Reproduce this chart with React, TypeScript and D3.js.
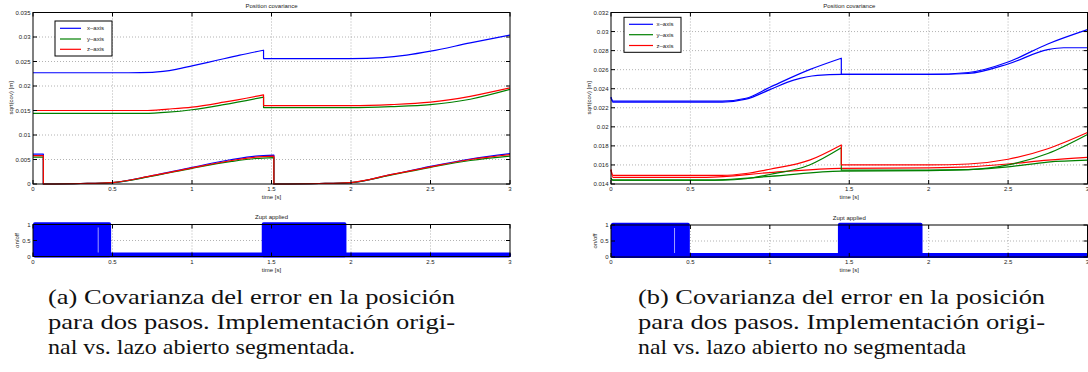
import React from 'react';
import * as d3 from 'd3';

const W = 1088;
const H = 372;

// ---- shared axis ticks ----
const timeTicks = [0, 0.5, 1, 1.5, 2, 2.5, 3];
const timeTickLabels = ['0', '0.5', '1', '1.5', '2', '2.5', '3'];

const covTicksA = [0, 0.005, 0.01, 0.015, 0.02, 0.025, 0.03, 0.035];
const covTickLabelsA = ['0', '0.005', '0.01', '0.015', '0.02', '0.025', '0.03', '0.035'];
const covTicksB = [0.014, 0.016, 0.018, 0.02, 0.022, 0.024, 0.026, 0.028, 0.03, 0.032];
const covTickLabelsB = ['0.014', '0.016', '0.018', '0.02', '0.022', '0.024', '0.026', '0.028', '0.03', '0.032'];

const zuptTicks = [0, 0.5, 1];
const zuptTickLabels = ['0', '0.5', '1'];

const legendLabels = ['x\u2013axis', 'y\u2013axis', 'z\u2013axis'];
const axisColors = ['#0000ff', '#008000', '#ff0000'];

// ---- panel (a): original implementation ----
const aOrigX1T = [0, 0.6, 0.75, 0.9, 1.0, 1.15, 1.3, 1.45];
const aOrigX1V = [0.0227, 0.0227, 0.0228, 0.0234, 0.0241, 0.0252, 0.0263, 0.0273];
const aOrigX2T = [1.45, 2.0, 2.2, 2.35, 2.5, 2.75, 3.0];
const aOrigX2V = [0.0256, 0.0256, 0.0258, 0.0263, 0.0271, 0.0288, 0.0304];
const aOrigYZ1T = [0, 0.7, 0.85, 1.0, 1.2, 1.45];
const aOrigY1V = [0.0144, 0.0144, 0.01465, 0.01515, 0.0162, 0.01775];
const aOrigZ1V = [0.015, 0.015, 0.0153, 0.0157, 0.0167, 0.0182];
const aOrigYZ2T = [1.45, 2.0, 2.25, 2.5, 2.75, 3.0];
const aOrigY2V = [0.0156, 0.0156, 0.0158, 0.0162, 0.0173, 0.0193];
const aOrigZ2V = [0.016, 0.016, 0.0162, 0.0167, 0.0179, 0.0196];

// ---- panel (a): segmented open loop ----
const aSeg1T = [0, 0.065];
const aSeg2T = [0.065, 0.3, 0.5, 0.75, 1.0, 1.25, 1.4, 1.515];
const aSeg3T = [1.515, 1.8, 2.0, 2.25, 2.5, 2.75, 3.0];
const aSegX1V = [0.0061, 0.0061];
const aSegX2V = [0, 0.0001, 0.0003, 0.0017, 0.0034, 0.005, 0.0057, 0.0059];
const aSegX3V = [0, 0.0001, 0.0003, 0.0019, 0.0036, 0.0051, 0.0062];
const aSegY1V = [0.0055, 0.0055];
const aSegY2V = [0, 0.0001, 0.0003, 0.0016, 0.0032, 0.0046, 0.0052, 0.0054];
const aSegY3V = [0, 0.0001, 0.0003, 0.0018, 0.0034, 0.0048, 0.0057];
const aSegZ1V = [0.0058, 0.0058];
const aSegZ2V = [0, 0.0001, 0.0003, 0.0017, 0.0033, 0.0048, 0.0055, 0.0057];
const aSegZ3V = [0, 0.0001, 0.0003, 0.0019, 0.0035, 0.005, 0.006];

// ---- panel (b): original implementation ----
const bOrig1T = [0, 0.012, 0.7, 0.85, 1.0, 1.25, 1.45];
const bOrigX1V = [0.0231, 0.0227, 0.0227, 0.023, 0.02415, 0.026, 0.0272];
const bOrigY1V = [0.0146, 0.0144, 0.0144, 0.01455, 0.015, 0.016, 0.0178];
const bOrigZ1V = [0.0155, 0.0149, 0.0149, 0.0151, 0.01555, 0.0165, 0.0181];
const bOrig2T = [1.45, 2.0, 2.25, 2.5, 2.75, 3.0];
const bOrigX2V = [0.0255, 0.0255, 0.0257, 0.0268, 0.0287, 0.0302];
const bOrigY2V = [0.01545, 0.01545, 0.0155, 0.016, 0.0172, 0.0192];
const bOrigZ2V = [0.016, 0.016, 0.0161, 0.0166, 0.0177, 0.0194];

// ---- panel (b): non-segmented open loop ----
const bOpenXT = [0, 0.012, 0.7, 0.85, 1.0, 1.15, 1.3, 1.45, 2.0, 2.25, 2.5, 2.75, 2.85, 3.0];
const bOpenXV = [0.0231, 0.0226, 0.0226, 0.0229, 0.0239, 0.0249, 0.0254, 0.0255, 0.0255, 0.0256, 0.0266, 0.0281, 0.0283, 0.0283];
const bOpenYZT = [0, 0.012, 0.6, 1.0, 1.45, 2.0, 2.25, 2.5, 2.75, 3.0];
const bOpenYV = [0.0146, 0.0144, 0.0144, 0.0148, 0.01535, 0.0154, 0.0155, 0.0158, 0.0163, 0.0165];
const bOpenZV = [0.0155, 0.0147, 0.0147, 0.0152, 0.01565, 0.0157, 0.0158, 0.0161, 0.0165, 0.0168];

// ---- zero-velocity update flags (intervals where Zupt is on) ----
const zuptOnStartA = [0, 1.45];
const zuptOnEndA = [0.48, 1.96];
const zuptGapA = [0.41];
const zuptOnStartB = [0, 1.44];
const zuptOnEndB = [0.485, 1.95];
const zuptGapB = [0.4];

const captionA = [
  '(a) Covarianza del error en la posición',
  'para dos pasos. Implementación origi-',
  'nal vs. lazo abierto segmentada.',
];
const captionB = [
  '(b) Covarianza del error en la posición',
  'para dos pasos. Implementación origi-',
  'nal vs. lazo abierto no segmentada',
];

type Seg = { t: number[]; v: number[] };
type Series = { color: number; segs: Seg[] };

const seriesA: Series[] = [
  { color: 0, segs: [{ t: aOrigX1T, v: aOrigX1V }, { t: aOrigX2T, v: aOrigX2V }] },
  { color: 1, segs: [{ t: aOrigYZ1T, v: aOrigY1V }, { t: aOrigYZ2T, v: aOrigY2V }] },
  { color: 2, segs: [{ t: aOrigYZ1T, v: aOrigZ1V }, { t: aOrigYZ2T, v: aOrigZ2V }] },
  { color: 0, segs: [{ t: aSeg1T, v: aSegX1V }, { t: aSeg2T, v: aSegX2V }, { t: aSeg3T, v: aSegX3V }] },
  { color: 1, segs: [{ t: aSeg1T, v: aSegY1V }, { t: aSeg2T, v: aSegY2V }, { t: aSeg3T, v: aSegY3V }] },
  { color: 2, segs: [{ t: aSeg1T, v: aSegZ1V }, { t: aSeg2T, v: aSegZ2V }, { t: aSeg3T, v: aSegZ3V }] },
];

const seriesB: Series[] = [
  { color: 0, segs: [{ t: bOpenXT, v: bOpenXV }] },
  { color: 1, segs: [{ t: bOpenYZT, v: bOpenYV }] },
  { color: 2, segs: [{ t: bOpenYZT, v: bOpenZV }] },
  { color: 0, segs: [{ t: bOrig1T, v: bOrigX1V }, { t: bOrig2T, v: bOrigX2V }] },
  { color: 1, segs: [{ t: bOrig1T, v: bOrigY1V }, { t: bOrig2T, v: bOrigY2V }] },
  { color: 2, segs: [{ t: bOrig1T, v: bOrigZ1V }, { t: bOrig2T, v: bOrigZ2V }] },
];

const FONT = "'Liberation Sans', Arial, Helvetica, sans-serif";
const SERIF = "'Liberation Serif', 'Times New Roman', serif";
const FS = 6;
const TXT = '#222';
const GRID = '#a0a0a0';
const TICK = 4;

type Box = { x0: number; x1: number; y0: number; y1: number };

function seriesPath(
  x: d3.ScaleLinear<number, number>,
  y: d3.ScaleLinear<number, number>,
  segs: Seg[]
): string {
  const line = d3
    .line<[number, number]>()
    .x((d) => x(d[0]))
    .y((d) => y(d[1]))
    .curve(d3.curveMonotoneX);
  return segs
    .map((s, i) => {
      const d = line(s.t.map((t, j) => [t, s.v[j]] as [number, number])) || '';
      return i === 0 ? d : 'L' + d.slice(1);
    })
    .join('');
}

function Frame({
  box,
  x,
  y,
  yTicks,
  yLabels,
}: {
  box: Box;
  x: d3.ScaleLinear<number, number>;
  y: d3.ScaleLinear<number, number>;
  yTicks: number[];
  yLabels: string[];
}) {
  return (
    <g>
      <rect x={box.x0} y={box.y0} width={box.x1 - box.x0} height={box.y1 - box.y0} fill="none" stroke="#000" strokeWidth={1} />
      {timeTicks.map((t, i) => (
        <g key={'xt' + i}>
          <line x1={x(t)} x2={x(t)} y1={box.y1} y2={box.y1 - TICK} stroke="#000" strokeWidth={1} />
          <line x1={x(t)} x2={x(t)} y1={box.y0} y2={box.y0 + TICK} stroke="#000" strokeWidth={1} />
          <text x={x(t)} y={box.y1 + 7} fontSize={FS} fontFamily={FONT} fill={TXT} textAnchor="middle">
            {timeTickLabels[i]}
          </text>
        </g>
      ))}
      {yTicks.map((v, i) => (
        <g key={'yt' + i}>
          <line x1={box.x0} x2={box.x0 + TICK} y1={y(v)} y2={y(v)} stroke="#000" strokeWidth={1} />
          <line x1={box.x1} x2={box.x1 - TICK} y1={y(v)} y2={y(v)} stroke="#000" strokeWidth={1} />
          <text x={box.x0 - 2.5} y={y(v) + 2} fontSize={FS} fontFamily={FONT} fill={TXT} textAnchor="end">
            {yLabels[i]}
          </text>
        </g>
      ))}
    </g>
  );
}

function Grid({
  box,
  x,
  y,
  yGrid,
}: {
  box: Box;
  x: d3.ScaleLinear<number, number>;
  y: d3.ScaleLinear<number, number>;
  yGrid: number[];
}) {
  return (
    <g stroke={GRID} strokeWidth={0.8} strokeDasharray="1,2">
      {timeTicks
        .filter((t) => t > 0 && t < 3)
        .map((t, i) => (
          <line key={'gx' + i} x1={x(t)} x2={x(t)} y1={box.y0} y2={box.y1} />
        ))}
      {yGrid.map((v, i) => (
        <line key={'gy' + i} x1={box.x0} x2={box.x1} y1={y(v)} y2={y(v)} />
      ))}
    </g>
  );
}

function CovPanel({
  box,
  domain,
  ticks,
  labels,
  series,
  legend,
}: {
  box: Box;
  domain: [number, number];
  ticks: number[];
  labels: string[];
  series: Series[];
  legend: { x: number; y: number; rows: number[]; lineX0: number; lineX1: number; textX: number; w: number; h: number };
}) {
  const x = d3.scaleLinear().domain([0, 3]).range([box.x0, box.x1]);
  const y = d3.scaleLinear().domain(domain).range([box.y1, box.y0]);
  const cx = (box.x0 + box.x1) / 2;
  const cy = (box.y0 + box.y1) / 2;
  return (
    <g>
      <Grid box={box} x={x} y={y} yGrid={ticks.filter((v) => v > domain[0] && v < domain[1])} />
      {series.map((s, i) => (
        <path
          key={i}
          d={seriesPath(x, y, s.segs)}
          fill="none"
          stroke={axisColors[s.color]}
          strokeWidth={1.2}
          strokeLinejoin="round"
        />
      ))}
      <Frame box={box} x={x} y={y} yTicks={ticks} yLabels={labels} />
      <text x={cx} y={box.y0 - 4.5} fontSize={FS} fontFamily={FONT} fill={TXT} textAnchor="middle">
        Position covariance
      </text>
      <text x={cx} y={box.y1 + 15} fontSize={FS} fontFamily={FONT} fill={TXT} textAnchor="middle">
        time [s]
      </text>
      <text
        transform={`translate(${box.x0 - 20},${cy - 0.5}) rotate(-90)`}
        fontSize={FS}
        fontFamily={FONT}
        fill={TXT}
        textAnchor="middle"
      >
        sqrt(cov) [m]
      </text>
      <g>
        <rect x={legend.x} y={legend.y} width={legend.w} height={legend.h} fill="#fff" stroke="#000" strokeWidth={1} />
        {legendLabels.map((lab, i) => (
          <g key={lab}>
            <line
              x1={legend.lineX0}
              x2={legend.lineX1}
              y1={legend.rows[i]}
              y2={legend.rows[i]}
              stroke={axisColors[i]}
              strokeWidth={1.2}
            />
            <text x={legend.textX} y={legend.rows[i] + 2} fontSize={FS} fontFamily={FONT} fill={TXT}>
              {lab}
            </text>
          </g>
        ))}
      </g>
    </g>
  );
}

function ZuptPanel({
  box,
  starts,
  ends,
  gaps,
}: {
  box: Box;
  starts: number[];
  ends: number[];
  gaps: number[];
}) {
  const x = d3.scaleLinear().domain([0, 3]).range([box.x0, box.x1]);
  const y = d3.scaleLinear().domain([0, 1]).range([box.y1, box.y0]);
  const cx = (box.x0 + box.x1) / 2;
  const cy = (box.y0 + box.y1) / 2;
  return (
    <g>
      <Grid box={box} x={x} y={y} yGrid={[0.5]} />
      <rect x={x(0)} y={y(0) - 4} width={x(3) - x(0) + 1} height={5} rx={2} fill="#0000ff" />
      {starts.map((s, i) => (
        <rect
          key={'z' + i}
          x={x(s) - (s === 0 ? 0 : 1.8)}
          y={y(1) - 2.2}
          width={x(ends[i]) - x(s) + (s === 0 ? 1.8 : 3.6)}
          height={y(0) - y(1) + 3}
          rx={1.8}
          fill="#0000ff"
        />
      ))}
      {gaps.map((g, i) => (
        <line key={'g' + i} x1={x(g)} x2={x(g)} y1={y(1) + 3} y2={y(0) - 4} stroke="#c8c8ff" strokeWidth={0.8} />
      ))}
      <Frame box={box} x={x} y={y} yTicks={zuptTicks} yLabels={zuptTickLabels} />
      <text x={cx} y={box.y0 - 5.5} fontSize={FS} fontFamily={FONT} fill={TXT} textAnchor="middle">
        Zupt applied
      </text>
      <text x={cx} y={box.y1 + 15} fontSize={FS} fontFamily={FONT} fill={TXT} textAnchor="middle">
        time [s]
      </text>
      <text
        transform={`translate(${box.x0 - 14},${cy}) rotate(-90)`}
        fontSize={FS}
        fontFamily={FONT}
        fill={TXT}
        textAnchor="middle"
      >
        on/off
      </text>
    </g>
  );
}

function Caption({ x, lines, widths }: { x: number; lines: string[]; widths: number[] }) {
  const baselines = [304, 329, 354];
  return (
    <g>
      {lines.map((l, i) => (
        <text
          key={i}
          x={x}
          y={baselines[i]}
          style={{ fontFamily: SERIF, fontSize: '22px' }}
          fill="#111"
          textLength={widths[i]}
          lengthAdjust="spacingAndGlyphs"
        >
          {l}
        </text>
      ))}
    </g>
  );
}

export default function App() {
  const topA: Box = { x0: 33, x1: 510, y0: 12.5, y1: 184 };
  const botA: Box = { x0: 33, x1: 510, y0: 224.5, y1: 256.5 };
  const topB: Box = { x0: 611, x1: 1087.5, y0: 12.5, y1: 184 };
  const botB: Box = { x0: 611, x1: 1087.5, y0: 225, y1: 257 };
  return (
    <svg
      width={W}
      height={H}
      viewBox={`0 0 ${W} ${H}`}
      style={{ position: 'absolute', left: 0, top: 0, background: '#fff' }}
    >
      <rect x={0} y={0} width={W} height={H} fill="#fff" />
      <CovPanel
        box={topA}
        domain={[0, 0.035]}
        ticks={covTicksA}
        labels={covTickLabelsA}
        series={seriesA}
        legend={{ x: 55, y: 21, w: 57, h: 35, rows: [28.3, 39, 49.3], lineX0: 60, lineX1: 81, textX: 87 }}
      />
      <ZuptPanel box={botA} starts={zuptOnStartA} ends={zuptOnEndA} gaps={zuptGapA} />
      <CovPanel
        box={topB}
        domain={[0.014, 0.032]}
        ticks={covTicksB}
        labels={covTickLabelsB}
        series={seriesB}
        legend={{ x: 624, y: 17.3, w: 57, h: 35, rows: [24.3, 34.7, 45.5], lineX0: 629, lineX1: 653, textX: 656.5 }}
      />
      <ZuptPanel box={botB} starts={zuptOnStartB} ends={zuptOnEndB} gaps={zuptGapB} />
      <Caption x={48} lines={captionA} widths={[407, 407, 307]} />
      <Caption x={638} lines={captionB} widths={[407, 407, 328]} />
    </svg>
  );
}
